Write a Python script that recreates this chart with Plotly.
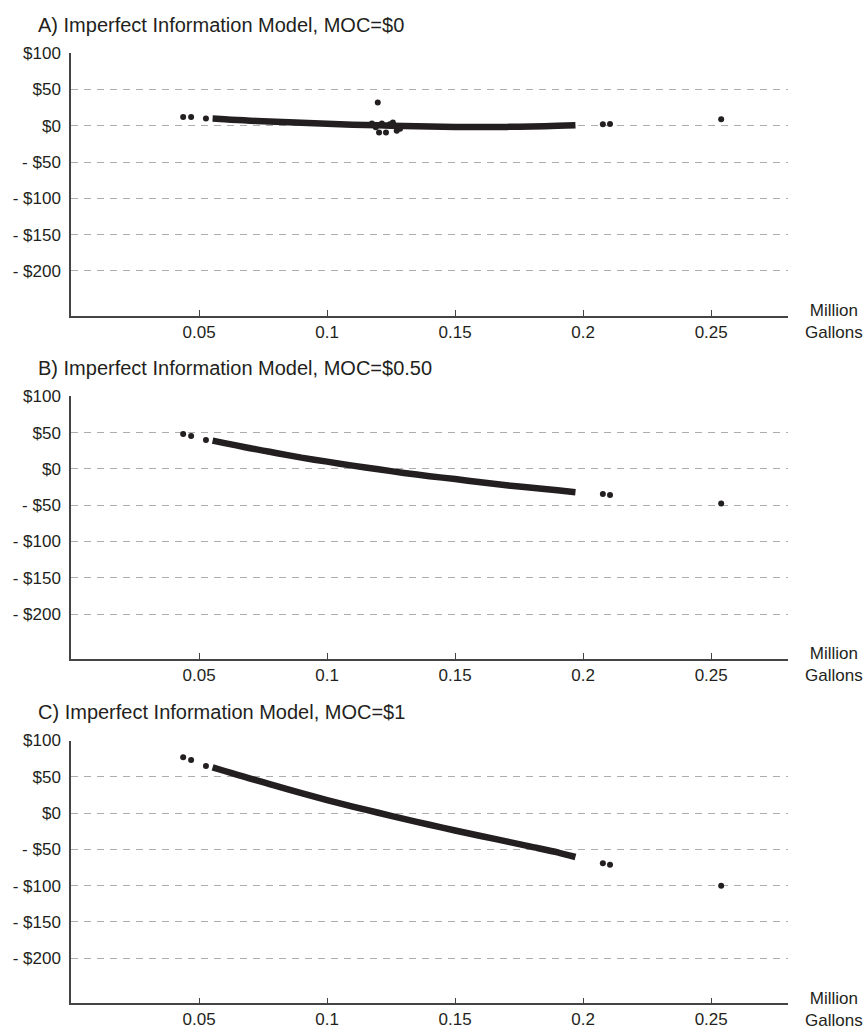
import plotly.graph_objects as go

# ---------------- data ----------------
tick_vals_x = [0.05, 0.1, 0.15, 0.2, 0.25]
tick_text_x = ["0.05", "0.1", "0.15", "0.2", "0.25"]
tick_vals_y = [100, 50, 0, -50, -100, -150, -200]
tick_text_y = ["$100", "$50", "$0", "- $50", "- $100", "- $150", "- $200"]

titles = [
    "A) Imperfect Information Model, MOC=$0",
    "B) Imperfect Information Model, MOC=$0.50",
    "C) Imperfect Information Model, MOC=$1",
]

# dense band
curve_x = [0.0553, 0.06, 0.065, 0.07, 0.075, 0.08, 0.09, 0.10, 0.11, 0.12, 0.13, 0.14,
           0.15, 0.16, 0.17, 0.18, 0.19, 0.197]
curve_a = [9.8, 8.8, 7.9, 7.0, 6.2, 5.4, 4.0, 2.6, 1.5, 0.5, -0.4, -1.1,
           -1.6, -1.8, -1.6, -1.1, -0.2, 0.8]
curve_b = [39, 35.5, 32, 28.5, 25.2, 22, 15.5, 10, 4.5, -0.5, -5.5, -10,
           -14, -18.5, -22.5, -26, -29.5, -32]
curve_c = [63, 58, 52.7, 47.5, 42.5, 37.5, 27.5, 18, 9, 0.5, -8, -16,
           -24, -31.5, -39, -46.5, -54, -60.5]

# isolated points
iso_x = [0.0438, 0.0469, 0.0527, 0.2077, 0.2105, 0.2539]
iso_a = [12, 12, 10, 2, 2.5, 9]
iso_b = [48, 45.5, 40, -34.5, -36, -47.5]
iso_c = [77, 73, 65, -69, -71, -100]

# scatter cluster in panel A
cluster_x = [0.1175, 0.1198, 0.1203, 0.1214, 0.1230, 0.1245, 0.1257, 0.1272, 0.1285, 0.1190]
cluster_y = [3, 32, -9.5, 3, -9.5, 2, 4.5, -7, -4, -2]

# ---------------- layout ----------------
W, H = 866, 1029
X0, X1 = 71, 788
panel_tops = [45, 395, 746]      # pixel y of $100
panel_bots = [313, 663, 1014]    # pixel y of x axis

INK = "#231f20"
FONT = "Liberation Sans, Arial, Helvetica, sans-serif"

fig = go.Figure()
curves = [curve_a, curve_b, curve_c]
isos = [iso_a, iso_b, iso_c]

for i in range(3):
    xa = "x" if i == 0 else f"x{i+1}"
    ya = "y" if i == 0 else f"y{i+1}"
    fig.add_trace(go.Scatter(x=curve_x, y=curves[i], mode="lines",
                             line=dict(color=INK, width=6.5, shape="spline", smoothing=0.6),
                             xaxis=xa, yaxis=ya, showlegend=False,
                             hoverinfo="skip"))
    fig.add_trace(go.Scatter(x=iso_x, y=isos[i], mode="markers",
                             marker=dict(color=INK, size=6),
                             xaxis=xa, yaxis=ya, showlegend=False))
    if i == 0:
        fig.add_trace(go.Scatter(x=cluster_x, y=cluster_y, mode="markers",
                                 marker=dict(color=INK, size=6),
                                 xaxis=xa, yaxis=ya, showlegend=False))

layout = dict(width=W, height=H, margin=dict(l=0, r=0, t=0, b=0),
              paper_bgcolor="white", plot_bgcolor="white",
              font=dict(family=FONT, color=INK, size=17))
annotations = []
for i in range(3):
    xk = "xaxis" if i == 0 else f"xaxis{i+1}"
    yk = "yaxis" if i == 0 else f"yaxis{i+1}"
    ya = "y" if i == 0 else f"y{i+1}"
    xa = "x" if i == 0 else f"x{i+1}"
    layout[xk] = dict(domain=[X0 / W, X1 / W], anchor=ya,
                      range=[0, 0.28], tickvals=tick_vals_x, ticktext=tick_text_x,
                      ticks="inside", ticklen=6, tickwidth=1.2, tickcolor="#444",
                      showline=True, linecolor="#444", linewidth=1.5,
                      showgrid=False, zeroline=False, ticklabelstandoff=0,
                      tickfont=dict(family=FONT, size=17, color=INK))
    layout[yk] = dict(domain=[1 - panel_bots[i] / H, 1 - panel_tops[i] / H], anchor=xa,
                      range=[-262, 100], tickvals=tick_vals_y, ticktext=tick_text_y,
                      ticks="", showline=True, linecolor="#444", linewidth=1.5,
                      showgrid=True, gridcolor="#adadad", gridwidth=1, griddash="7px,6px",
                      zeroline=False, ticklabelstandoff=5,
                      tickfont=dict(family=FONT, size=17, color=INK))
    annotations.append(dict(text=titles[i], xref="paper", yref="paper",
                            x=36 / W, y=1 - (panel_tops[i] - 29) / H,
                            xanchor="left", yanchor="middle", showarrow=False,
                            font=dict(family=FONT, size=20, color=INK)))
    annotations.append(dict(text="Million<br>Gallons", xref="paper", yref="paper",
                            x=834 / W, y=1 - (panel_bots[i] - 17) / H,
                            xanchor="center", yanchor="top", showarrow=False,
                            align="center",
                            font=dict(family=FONT, size=17, color=INK)))
layout["annotations"] = annotations
fig.update_layout(**layout)

fig.write_html("out.html")
